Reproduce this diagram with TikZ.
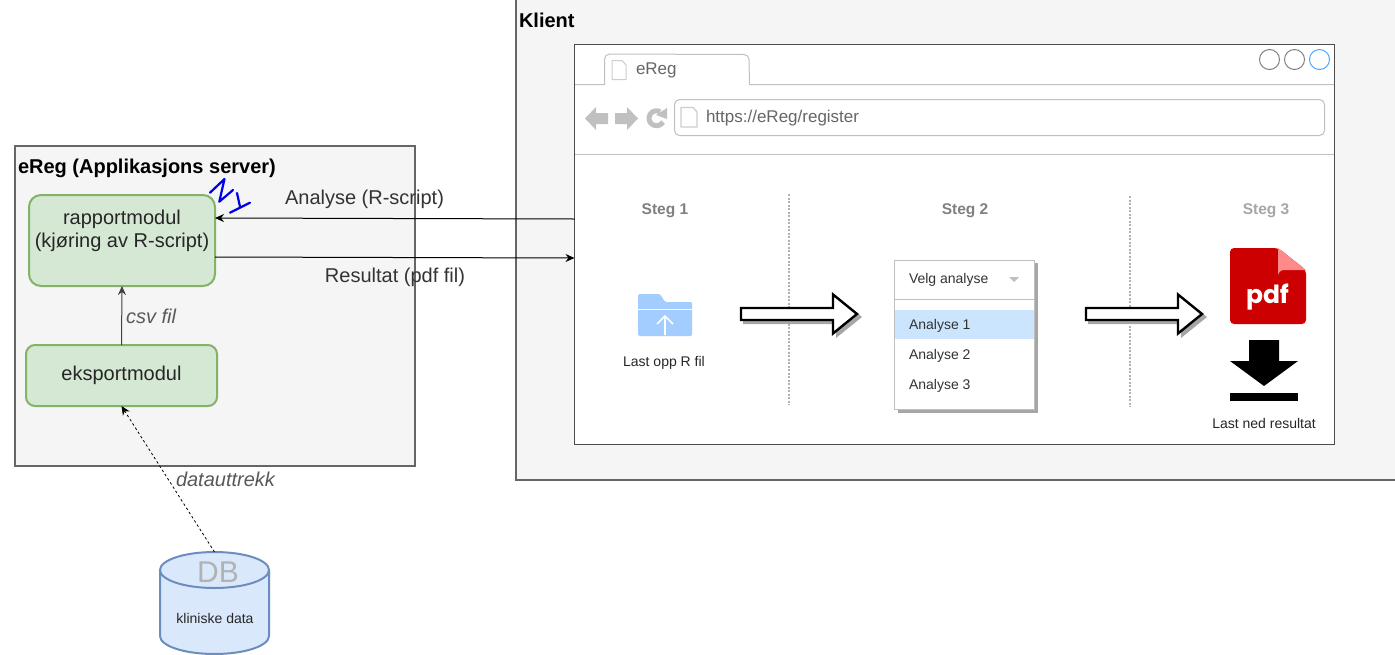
\documentclass[tikz,border=0pt]{standalone}
\usepackage{fontspec}
\setmainfont{Liberation Sans}
\newfontfamily\popp{Poppins}
\usetikzlibrary{arrows.meta,shapes.geometric}
\definecolor{panelfill}{HTML}{F5F5F5}
\definecolor{panelline}{HTML}{666666}
\definecolor{greenfill}{HTML}{D5E8D4}
\definecolor{greenline}{HTML}{82B366}
\definecolor{bluefill}{HTML}{DAE8FC}
\definecolor{blueline}{HTML}{6C8EBF}
\definecolor{chrome}{HTML}{C0C0C0}
\definecolor{folderblue}{HTML}{A3CCFF}
\definecolor{selblue}{HTML}{CCE5FF}
\definecolor{pdfred}{HTML}{CC0000}
\definecolor{pdffold}{HTML}{FF8A8A}
\newcommand{\fs}[1]{\fontsize{#1}{#1}\selectfont}
\tikzset{
 every node/.style={outer sep=0pt},
 panel/.style={draw=panelline,fill=panelfill,line width=2pt,rectangle,inner sep=0pt,anchor=north west},
 modul/.style={draw=greenline,fill=greenfill,line width=2pt,rounded corners=12pt,inner sep=0pt,align=center,text=black!85,font=\fs{20}},
 lbl/.style={inner sep=0pt,text=black!80,font=\fs{20}},
 ital/.style={inner sep=0pt,text=black!65,font=\fs{20}\itshape},
 small/.style={inner sep=0pt,text=black!85,font=\fs{14}},
 stepl/.style={inner sep=0pt,text=black!50,font=\fs{15.5}\bfseries},
 title/.style={inner sep=0pt,anchor=base west,text=black,font=\fs{20}\bfseries},
 conn/.style={line width=1pt,-{Stealth[length=9pt,width=8pt]}},
 grayicon/.style={fill=chrome,draw=none},
 chromeline/.style={draw=chrome,line width=1pt},
 divider/.style={draw=black!30,line width=2pt,dash pattern=on 2pt off 1.5pt},
 bigarrow/.style={draw=black,fill=white,line width=2.4pt,line join=miter},
 bigshadow/.style={draw=none,fill=black!35},
 ctl/.style={circle,draw=black!50,line width=1pt,minimum size=20pt,inner sep=0pt,fill=white},
 docicon/.style={draw=chrome!80!white,line width=1pt,fill=white,line join=round}
}
\begin{document}
\begin{tikzpicture}[x=1pt,y=-1pt]
\clip (0,0) rectangle (1395,654);
\fill[white] (0,0) rectangle (1395,654);
% panels
\node[panel,minimum width=400pt,minimum height=320pt] (server) at (14.5,145.5) {};
\node[panel,minimum width=920pt,minimum height=490pt] (client) at (516,-10) {};
\node[title] (servertitle) at (18,173.5) {eReg (Applikasjons server)};
\node[title] (clienttitle) at (519,27) {Klient};
% browser
\node[rectangle,draw=black!70,fill=white,line width=1pt,minimum width=760pt,minimum height=400pt,inner sep=0pt,anchor=north west] (browser) at (574.5,44.5) {};
\draw[chromeline] (575,84.5) -- (604.5,84.5) -- (604.5,59) arc[start angle=180,end angle=90,x radius=5,y radius=-5] -- (744,54.5) arc[start angle=90,end angle=0,x radius=5,y radius=-5] -- (749.5,84.5) -- (1334,84.5);
\draw[chromeline] (575,154.5) -- (1334,154.5);
\draw[docicon] (612,60.5) -- (622,60.5) -- (626,65) -- (626,79.5) -- (612,79.5) -- cycle;
\node[inner sep=0pt,anchor=base west,text=black!60,font=\fs{17}] (tabtext) at (636,74) {eReg};
% nav icons
\fill[grayicon] (585,118.5) -- (596,107) -- (596,113) -- (608,113) -- (608,124) -- (596,124) -- (596,130) -- cycle;
\fill[grayicon] (638,118.5) -- (627,107) -- (627,113) -- (615,113) -- (615,124) -- (627,124) -- (627,130) -- cycle;
\draw[chrome,line width=5pt] (663,122) arc[start angle=-30,end angle=-300,x radius=7.5,y radius=-7.5];
\fill[grayicon] (667,108) -- (667,119) -- (656,115) -- cycle;
\node[rectangle,rounded corners=5pt,draw=chrome,line width=1pt,fill=white,minimum width=650pt,minimum height=36pt,inner sep=0pt,anchor=north west] (url) at (674.5,99.5) {};
\draw[docicon,line width=1.3pt] (681,107.5) -- (693,107.5) -- (697,112) -- (697,127) -- (681,127) -- cycle;
\node[inner sep=0pt,anchor=base west,text=black!60,font=\fs{17}] (urltext) at (706,122) {https://eReg/register};
\node[ctl] (c1) at (1269.5,59.5) {};
\node[ctl] (c2) at (1294.5,59.5) {};
\node[ctl,draw=blue!50!cyan!70] (c3) at (1319.5,59.5) {};
% steps
\node[stepl] (s1) at (665,211) {Steg 1};
\node[stepl] (s2) at (965,211) {Steg 2};
\node[stepl,text=black!35] (s3) at (1266,211) {Steg 3};
\draw[divider] (789,194) -- (789,405);
\draw[divider] (1130,196) -- (1130,407);
% folder
\fill[folderblue,rounded corners=1.5pt] (638,294) -- (660,294) -- (665,302) -- (692,302) -- (692,336) -- (638,336) -- cycle;
\draw[white,line width=1.4pt] (638,309.5) -- (692,309.5);
\draw[white,line width=1.6pt] (665,335) -- (665,316) (657,324) -- (665,316) -- (673,324);
\node[small] (s1t) at (664,363) {Last opp R fil};
% block arrows
\foreach \ax in {741,1086}{
 \fill[bigshadow,shift={(\ax+3,317)}] (-1,-7) -- (92,-7) -- (92,-21) -- (118,0) -- (92,21) -- (92,7) -- (-1,7) -- cycle;
 \draw[bigarrow,shift={(\ax,314)}] (0,-6) -- (92,-6) -- (92,-19.5) -- (116,0) -- (92,19.5) -- (92,6) -- (0,6) -- cycle;
}
% dropdown
\fill[black!35] (898,263) rectangle (1037.5,412.5);
\node[rectangle,draw=black!25,line width=1pt,fill=white,minimum width=140pt,minimum height=149pt,inner sep=0pt,anchor=north west] (menu) at (894.5,260) {};
\draw[draw=black!25,line width=1pt] (895,299.5) -- (1034.5,299.5);
\fill[selblue] (895,310) rectangle (1034,339);
\node[small,anchor=base west,text=black!80] (m0) at (909,283) {Velg analyse};
\node[small,anchor=base west,text=black!80] (m1) at (909,329) {Analyse 1};
\node[small,anchor=base west,text=black!80] (m2) at (909,359) {Analyse 2};
\node[small,anchor=base west,text=black!80] (m3) at (909,389) {Analyse 3};
\fill[black!25] (1009,277) -- (1019,277) -- (1014,282) -- cycle;
% pdf icon
\fill[pdfred,rounded corners=4pt] (1230,248) -- (1278,248) -- (1306,270) -- (1306,324) -- (1230,324) -- cycle;
\fill[pdffold] (1278,248) -- (1306,270) -- (1284,270) arc[start angle=90,end angle=180,x radius=6,y radius=-6] -- cycle;
\node[inner sep=0pt,anchor=base,text=white,font=\popp\bfseries\fs{25}] (pdft) at (1267.5,303) {pdf};
% download icon
\fill[black] (1249,340) -- (1279,340) -- (1279,361) -- (1298,361) -- (1264,386) -- (1230,361) -- (1249,361) -- cycle;
\fill[black] (1230,393) rectangle (1298,400.5);
\node[small] (s3t) at (1264,423.5) {Last ned resultat};
% modules
\node[modul,minimum width=186pt,minimum height=91pt] (rapport) at (122,240.5) {rapportmodul\\[3pt](kjøring av R-script)\\[3pt]\mbox{}};
\node[modul,minimum width=191pt,minimum height=61pt,rounded corners=9pt] (eksport) at (121.5,375.5) {\raisebox{-3.5pt}{eksportmodul}};
% NY
\draw[blue!90!black,line width=2.2pt,line cap=round,line join=round] (210,192.7) -- (224.5,179) -- (219.3,201.7) -- (233,190) (237,193) -- (240,206.7) (230,212.7) -- (250,202.7);
% cylinder
\draw[blueline,fill=bluefill,line width=2pt] (160,570) -- (160,636) arc[start angle=180,end angle=360,x radius=54.5,y radius=-18] -- (269,570);
\node[ellipse,draw=blueline,fill=bluefill,line width=2pt,minimum width=109pt,minimum height=36pt,inner sep=0pt] (db) at (214.5,570) {};
\node[inner sep=0pt,text=black!30,font=\fs{30}] (dbt) at (218,572) {DB};
\node[small,text=black!85] (dbl) at (215,618.5) {kliniske data};
% connectors
\draw[conn] (browser.west |- 0,219) -- ([yshift=22.5pt]rapport.east);
\draw[conn] ([yshift=-16.5pt]rapport.east) -- (browser.west |- 0,258);
\draw[conn,draw=black!75] (eksport.north) -- (rapport.south);
\draw[conn,line width=0.8pt,dash pattern=on 2.5pt off 2.5pt] (db.north) -- (eksport.south);
% labels
\node[lbl] (l1) at (364.5,199.5) {Analyse (R-script)};
\node[lbl] (l2) at (395,277.5) {Resultat (pdf fil)};
\node[ital,anchor=west] (l3) at (126,316) {csv fil};
\node[ital,anchor=west] (l4) at (176,479) {datauttrekk};
\end{tikzpicture}
\end{document}
